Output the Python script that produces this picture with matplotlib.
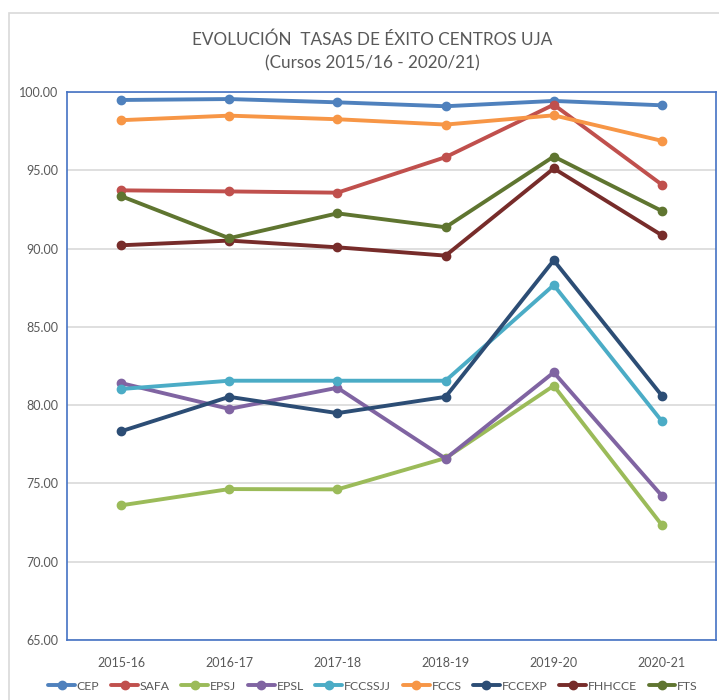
import matplotlib
matplotlib.use("Agg")
import matplotlib.pyplot as plt
from matplotlib.patches import Rectangle

plt.rcParams['font.family'] = ['Lato', 'DejaVu Sans']

cursos = ['2015-16', '2016-17', '2017-18', '2018-19', '2019-20', '2020-21']
centros = ['CEP', 'SAFA', 'EPSJ', 'EPSL', 'FCCSSJJ', 'FCCS', 'FCCEXP', 'FHHCCE', 'FTS']
cep     = [99.49, 99.55, 99.34, 99.09, 99.43, 99.15]
safa    = [93.72, 93.65, 93.57, 95.84, 99.19, 94.08]
epsj    = [73.60, 74.64, 74.62, 76.62, 81.24, 72.34]
epsl    = [81.41, 79.76, 81.11, 76.58, 82.09, 74.21]
fccssjj = [81.03, 81.56, 81.56, 81.56, 87.67, 78.97]
fccs    = [98.20, 98.49, 98.26, 97.92, 98.51, 96.88]
fccexp  = [78.33, 80.53, 79.49, 80.53, 89.25, 80.60]
fhhcce  = [90.21, 90.51, 90.08, 89.55, 95.12, 90.85]
fts     = [93.35, 90.66, 92.25, 91.36, 95.88, 92.40]
series = [cep, safa, epsj, epsl, fccssjj, fccs, fccexp, fhhcce, fts]
colores = ['#4F81BD', '#C0504D', '#9BBB59', '#8064A2', '#4BACC6',
           '#F79646', '#2C4D75', '#772C2A', '#5F7530']

fig = plt.figure(figsize=(7.19, 7.0), dpi=100)
# marco exterior del grafico
fig.patches.append(Rectangle((9/719, -0.01), 1.0, 1 - 13/700 + 0.01, transform=fig.transFigure,
                             fill=False, edgecolor='#D9D9D9', linewidth=1.2))
ax = fig.add_axes([67/719, 1 - 640/700, (716 - 67)/719, (640 - 92)/700])

x = list(range(len(cursos)))
for nombre, vals, c in zip(centros, series, colores):
    ax.plot(x, vals, color=c, linewidth=2.8, marker='o', markersize=6,
            label=nombre, solid_capstyle='round')

ax.set_xlim(-0.5, len(cursos) - 0.5)
ax.set_ylim(65, 100)
ax.set_yticks(range(65, 101, 5))
ax.set_yticklabels(['%.2f' % v for v in range(65, 101, 5)])
ax.set_xticks(x)
ax.set_xticklabels(cursos)
ax.tick_params(length=0, labelsize=9, colors='#595959', pad=6)
ax.tick_params(axis='x', pad=12)
ax.grid(axis='y', color='#D9D9D9', linewidth=1.2)
ax.set_axisbelow(True)
for s in ax.spines.values():
    s.set_color('#4472C4')
    s.set_linewidth(1.2)

fig.text(372/719, 1 - 40/700, 'EVOLUCIÓN  TASAS DE ÉXITO CENTROS UJA', ha='center', va='center',
         fontsize=12.3, color='#595959')
fig.text(372/719, 1 - 63/700, '(Cursos 2015/16 - 2020/21)', ha='center', va='center',
         fontsize=12.3, color='#595959')

fig.legend(loc='center', bbox_to_anchor=(373/719, 1 - 686/700), ncol=9, frameon=False,
           fontsize=8.8, labelcolor='#595959', handlelength=2.2, handletextpad=0.15,
           columnspacing=0.95, borderaxespad=0)

fig.savefig('out.png', dpi=100)
